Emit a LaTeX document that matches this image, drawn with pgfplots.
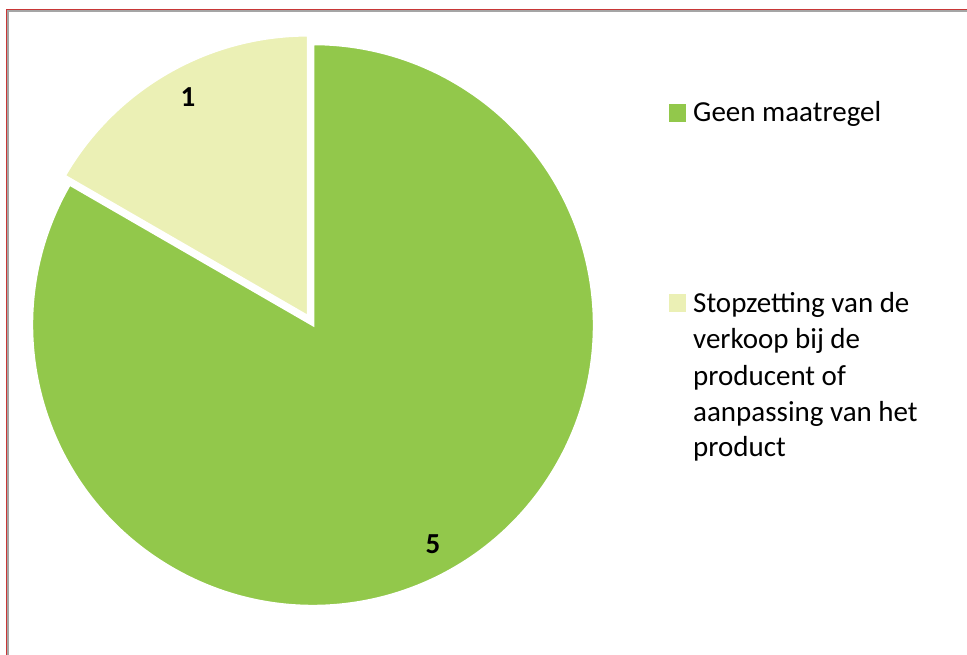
\documentclass[border=0pt]{standalone}
\usepackage{fontspec}
\setmainfont{Carlito}
\usepackage{pgfplots}
\usepackage{pgfplotstable}
\pgfplotsset{compat=1.18}
\definecolor{green1}{RGB}{146,200,75}
\definecolor{light1}{RGB}{235,240,181}
\definecolor{bred}{RGB}{200,55,55}
\definecolor{bgray}{RGB}{165,165,165}
\pgfplotstableread{
name value
Geen 5
Stop 1
}\piedata
\begin{document}
\begin{tikzpicture}
\useasboundingbox (0pt,0pt) rectangle (967pt,655pt);
\pgfplotstablegetelem{0}{value}\of\piedata \let\va\pgfplotsretval
\pgfplotstablegetelem{1}{value}\of\piedata \let\vb\pgfplotsretval
\pgfmathsetmacro{\tot}{\va+\vb}
\pgfmathsetmacro{\aend}{90-360*\va/\tot}
\pgfmathsetmacro{\bend}{\aend+360}
\pgfmathsetmacro{\bmid}{(90+\bend)/2}
\begin{axis}[hide axis, scale only axis, width=967pt, height=655pt,
  anchor=south west, at={(0pt,0pt)}, overlay,
  xmin=0, xmax=967, ymin=0, ymax=655, y dir=reverse, clip=false]
% frame (top and left edges)
\fill[bred] (axis cs:6,655) rectangle (axis cs:7.2,9);
\fill[bred] (axis cs:6,9) rectangle (axis cs:967,10.2);
\fill[bgray] (axis cs:7.2,655) rectangle (axis cs:9,10.2);
\fill[bgray] (axis cs:7.2,10.2) rectangle (axis cs:967,12);
% pie
\fill[green1, draw=white, line width=2.5pt, line join=miter]
  (axis cs:313,325) -- ++(\aend:281pt) arc[start angle=\aend, end angle=90, radius=281pt] -- cycle;
\fill[light1, draw=white, line width=2.5pt, line join=miter]
  (axis cs:313,325) ++(\bmid:10pt) -- ++(90:281pt) arc[start angle=90, end angle=\bend, radius=281pt] -- cycle;
% data labels
\node[font=\fontsize{29}{35}\selectfont\bfseries, inner sep=0pt] at (axis cs:188,97) {\vb};
\node[font=\fontsize{29}{35}\selectfont\bfseries, inner sep=0pt] at (axis cs:433,544) {\va};
% legend
\fill[green1] (axis cs:669,104) rectangle (axis cs:686,122);
\fill[light1] (axis cs:669,294) rectangle (axis cs:686,312);
\node[font=\fontsize{29}{35}\selectfont, inner sep=0pt, anchor=base west] at (axis cs:693,122) {Geen maatregel};
\node[font=\fontsize{29}{35}\selectfont, inner sep=0pt, anchor=base west] at (axis cs:693,313) {Stopzetting van de};
\node[font=\fontsize{29}{35}\selectfont, inner sep=0pt, anchor=base west] at (axis cs:693,349) {verkoop bij de};
\node[font=\fontsize{29}{35}\selectfont, inner sep=0pt, anchor=base west] at (axis cs:693,386) {producent of};
\node[font=\fontsize{29}{35}\selectfont, inner sep=0pt, anchor=base west] at (axis cs:693,422) {aanpassing van het};
\node[font=\fontsize{29}{35}\selectfont, inner sep=0pt, anchor=base west] at (axis cs:693,457) {product};
\end{axis}
\end{tikzpicture}
\end{document}
